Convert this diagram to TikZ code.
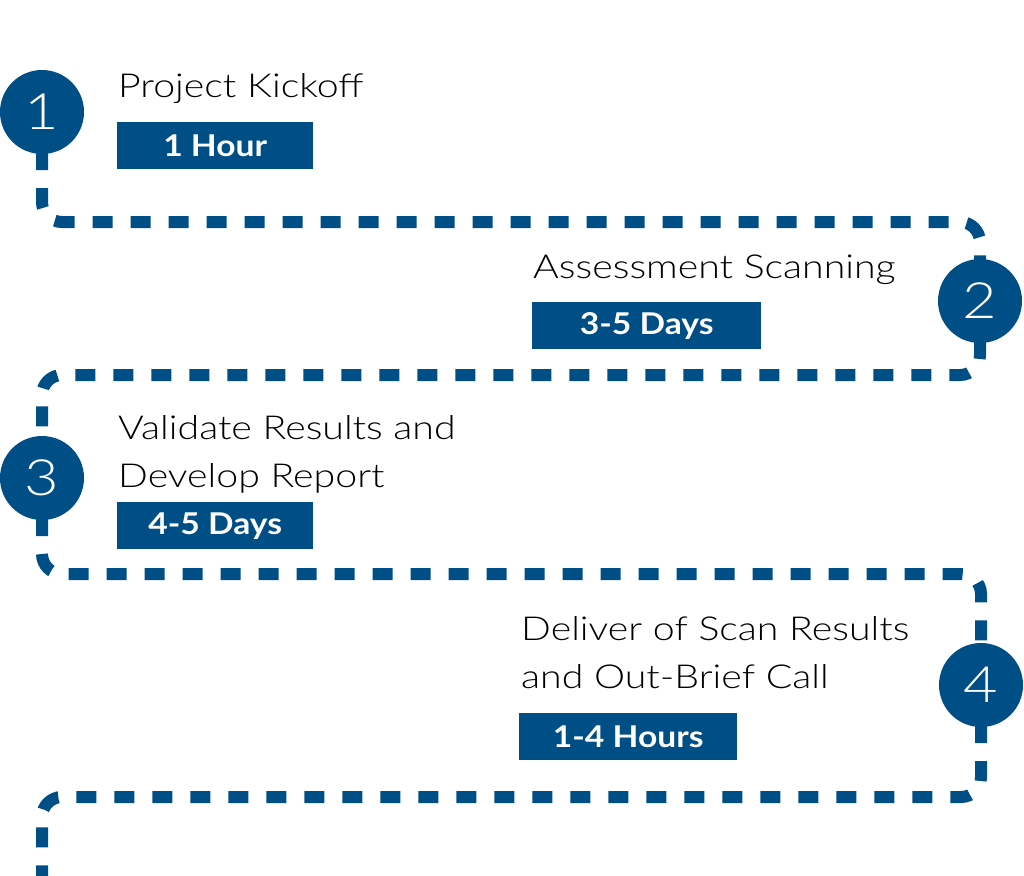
\documentclass[tikz,border=0pt]{standalone}
\usepackage{fontspec}
\setmainfont{Lato}
\newfontfamily\thinfont[FakeStretch=1.19]{Lato Light}
\newfontfamily\badgefont[FakeStretch=1.12]{Lato Bold}
\usepackage{tikz}
\usetikzlibrary{positioning}
\usetikzlibrary{backgrounds}
\definecolor{stepblue}{RGB}{0,78,134}

\begin{document}
\begin{tikzpicture}[x=1pt,y=-1pt,
		num/.style={circle,fill=stepblue,minimum size=84pt,inner sep=0pt,text=white,font=\thinfont\fontsize{50}{50}\selectfont},
		title/.style={anchor=base west,align=left,inner sep=0pt,font=\thinfont\fontsize{33}{48}\selectfont},
		badge/.style={anchor=north west,fill=stepblue,text=white,minimum height=47pt,inner sep=0pt,font=\badgefont\fontsize{30}{30}\selectfont},
		track/.style={stepblue,line width=12pt,dash pattern=on 20pt off 18pt,rounded corners=20pt}]
		\useasboundingbox (0,0) rectangle (1024,875);
		% steps
		\node[num] (c1) at (42,112) {1};
		\node[num] (c2) at (980,301) {2};
		\node[num] (c3) at (42,478) {3};
		\node[num] (c4) at (981,685) {4};
		\node[title] (t1) at (118,97) {Project Kickoff};
		\node[title] (t2) at (533,278) {Assessment Scanning};
		\node[title] (t3) at (118,487) {Validate Results and\\Develop Report};
		\node[title] (t4) at (521,688) {Deliver of Scan Results\\and Out-Brief Call};
		\node[badge,minimum width=196pt] (b1) at (117,122) {1 Hour};
		\node[badge,minimum width=229pt] (b2) at (532,302) {3-5 Days};
		\node[badge,minimum width=196pt] (b3) at (117,502) {4-5 Days};
		\node[badge,minimum width=218pt] (b4) at (519,713) {1-4 Hours};
		% dashed road
		\coordinate (r1) at (0,222);
		\coordinate (r2) at (0,375);
		\coordinate (r3) at (0,574);
		\coordinate (r4) at (0,797);
		\coordinate (tail) at (42,880);
		\begin{pgfonlayer}{background}
			\draw[track] (c1.center) |- (r1 -| c2) -- (c2.center);
			\draw[track] (c2.center) |- (r2 -| c3) -- (c3.center);
			\draw[track] (c3.center) |- (r3 -| c4) -- (c4.center);
			\draw[track] (c4.center) |- (r4 -| tail) -- (tail);
		\end{pgfonlayer}
	\end{tikzpicture}
\end{document}
